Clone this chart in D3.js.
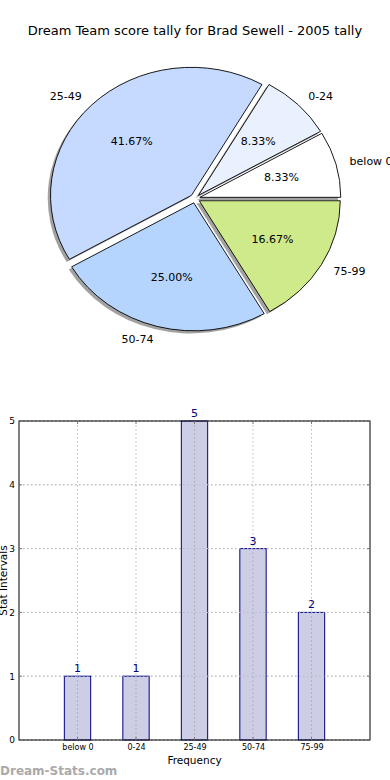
<!DOCTYPE html>
<html><head><meta charset="utf-8">
<script src="https://cdn.jsdelivr.net/npm/d3@7/dist/d3.min.js"></script>
<style>body{margin:0;background:#fff;} svg{display:block;font-family:"DejaVu Sans",sans-serif;}</style>
</head><body>
<svg id="c" width="390" height="780"></svg>
<script>
const categories = ["below 0", "0-24", "25-49", "50-74", "75-99"];
const counts = [1, 1, 5, 3, 2];
const pieColors = ["#ffffff", "#e9f1ff", "#c6d9ff", "#b5d5ff", "#cfea8b"];
const yTicks = [0, 1, 2, 3, 4, 5];
const title = "Dream Team score tally for Brad Sewell - 2005 tally";

const svg = d3.select("#c");
svg.append("text").attr("x", 195).attr("y", 35).attr("text-anchor", "middle")
  .attr("font-size", 13).attr("fill", "#000").text(title);

// ---- Pie ----
const cx = 195, cy = 198.5, rx = 141, ry = 128, explode = 0.035;
const total = d3.sum(counts);
const pie = d3.pie().sort(null).startAngle(Math.PI / 2).endAngle(Math.PI / 2 - 2 * Math.PI);
const arcs = pie(counts);
const arcGen = d3.arc().innerRadius(0).outerRadius(1);
const pieG = svg.append("g");
function off(a) {
  const m = (a.startAngle + a.endAngle) / 2;
  return [Math.sin(m), -Math.cos(m)];
}
arcs.forEach((a, i) => {
  const [dx, dy] = off(a);
  pieG.append("path")
    .attr("transform", `translate(${cx + dx * explode * rx - 2.8},${cy + dy * explode * ry + 2.6}) scale(${rx},${ry})`)
    .attr("d", arcGen(a))
    .attr("fill", "#555")
    .attr("fill-opacity", 0.55);
});
arcs.forEach((a, i) => {
  const [dx, dy] = off(a);
  const ox = cx + dx * explode * rx, oy = cy + dy * explode * ry;
  pieG.append("path")
    .attr("transform", `translate(${ox},${oy}) scale(${rx},${ry})`)
    .attr("d", arcGen(a))
    .attr("fill", pieColors[i])
    .attr("stroke", "#000").attr("stroke-width", 0.9)
    .attr("vector-effect", "non-scaling-stroke");
  pieG.append("text")
    .attr("x", ox + dx * 0.6 * rx).attr("y", oy + dy * 0.6 * ry)
    .attr("dy", "0.35em").attr("text-anchor", "middle")
    .attr("font-size", 11).text((counts[i] / total * 100).toFixed(2) + "%");
  pieG.append("text")
    .attr("x", ox + dx * 1.1 * rx).attr("y", oy + dy * 1.1 * ry)
    .attr("dy", "0.35em").attr("text-anchor", dx > 0 ? "start" : "end")
    .attr("font-size", 11).text(categories[i]);
});

// ---- Bar chart ----
const L = 19, R = 370, T = 421, B = 740;
const x = d3.scaleLinear().domain([-1, 5]).range([L, R]);
const y = d3.scaleLinear().domain([0, 5]).range([B, T]);
const barW = 0.45;
const g = svg.append("g");

g.selectAll(".vg").data(categories).enter().append("line")
  .attr("x1", (d, i) => x(i)).attr("x2", (d, i) => x(i)).attr("y1", T).attr("y2", B)
  .attr("stroke", "#bbb").attr("stroke-dasharray", "1.5,2.5");
g.selectAll(".hg").data(yTicks).enter().append("line")
  .attr("x1", L).attr("x2", R).attr("y1", d => y(d)).attr("y2", d => y(d))
  .attr("stroke", "#bbb").attr("stroke-dasharray", "1.5,2.5");

g.selectAll(".bar").data(counts).enter().append("rect")
  .attr("x", (d, i) => x(i - barW / 2)).attr("width", x(barW) - x(0))
  .attr("y", d => y(d)).attr("height", d => B - y(d))
  .attr("fill", "#cdcde6")
  .attr("stroke", "#000080").attr("stroke-width", 1);
g.selectAll(".vg2").data(categories).enter().append("line")
  .attr("x1", (d, i) => x(i)).attr("x2", (d, i) => x(i))
  .attr("y1", (d, i) => y(counts[i])).attr("y2", B)
  .attr("stroke", "#aaa").attr("stroke-dasharray", "1.5,2.5");
g.selectAll(".hg2").data(yTicks).enter().append("line")
  .attr("x1", L).attr("x2", R).attr("y1", d => y(d)).attr("y2", d => y(d))
  .attr("stroke", "#bbb").attr("stroke-dasharray", "1.5,2.5");

g.selectAll(".vl").data(counts).enter().append("text")
  .attr("x", (d, i) => x(i)).attr("y", d => y(d) - 4)
  .attr("text-anchor", "middle").attr("font-size", 11).attr("fill", "#000080")
  .text(d => d);

g.append("rect").attr("x", L).attr("y", T).attr("width", R - L).attr("height", B - T)
  .attr("fill", "none").attr("stroke", "#000").attr("stroke-width", 1);

yTicks.forEach(t => {
  g.append("line").attr("x1", L).attr("x2", L + 3).attr("y1", y(t)).attr("y2", y(t)).attr("stroke", "#777");
  g.append("line").attr("x1", R - 3).attr("x2", R).attr("y1", y(t)).attr("y2", y(t)).attr("stroke", "#777");
});
categories.forEach((c, i) => {
  g.append("line").attr("x1", x(i)).attr("x2", x(i)).attr("y1", B).attr("y2", B - 3).attr("stroke", "#777");
  g.append("line").attr("x1", x(i)).attr("x2", x(i)).attr("y1", T).attr("y2", T + 3).attr("stroke", "#777");
});

const yAxis = d3.axisLeft(y).tickValues(yTicks).tickFormat(d3.format("d")).tickSize(0).tickPadding(4);
const ya = g.append("g").attr("transform", `translate(${L},0)`).call(yAxis);
ya.select(".domain").remove();
ya.selectAll("text").attr("font-size", 9).attr("font-family", "DejaVu Sans, sans-serif").attr("fill", "#000");
const xAxis = d3.axisBottom(x).tickValues(d3.range(categories.length)).tickFormat(i => categories[i]).tickSize(0).tickPadding(4);
const xa = g.append("g").attr("transform", `translate(0,${B})`).call(xAxis);
xa.select(".domain").remove();
xa.selectAll("text").attr("font-size", 8).attr("font-family", "DejaVu Sans, sans-serif").attr("fill", "#000");

svg.append("text").attr("x", (L + R) / 2).attr("y", 764).attr("text-anchor", "middle")
  .attr("font-size", 10.5).text("Frequency");
svg.append("text").attr("transform", `translate(7,${(T + B) / 2}) rotate(-90)`)
  .attr("text-anchor", "middle").attr("font-size", 10.5).text("Stat Intervals");

svg.append("text").attr("x", 0).attr("y", 775).attr("font-size", 12)
  .attr("fill", "#aaa").attr("font-weight", "bold").text("Dream-Stats.com");
</script>
</body></html>
